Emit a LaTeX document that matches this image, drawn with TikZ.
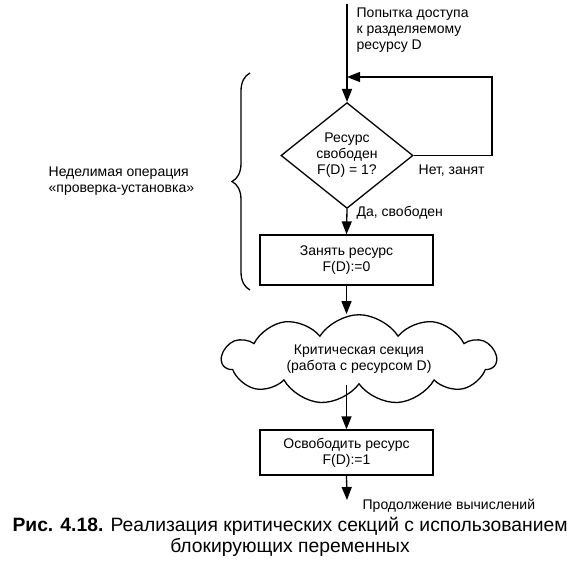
\documentclass[tikz,border=0pt]{standalone}
\usepackage{fontspec}
\setmainfont{Liberation Sans}
\usetikzlibrary{arrows.meta,shapes.geometric,shapes.symbols,decorations.pathreplacing}
\begin{document}
\begin{tikzpicture}[x=1pt,y=-1pt,
  line width=1.3pt,
  txt/.style={font=\fontsize{14}{16}\selectfont, inner sep=0pt},
  arr/.style={-{Triangle[length=13pt,width=10pt]}},
  box/.style={draw, rectangle, minimum width=173pt, inner sep=0pt, align=center, txt},
  dec/.style={draw, diamond, minimum width=132pt, minimum height=97pt, inner sep=0pt, align=center, txt},
  cl/.style={draw, cloud, cloud puffs=11, cloud puff arc=115, aspect=3.4, minimum width=274pt, minimum height=84pt, inner sep=0pt, align=center, txt}
]
\useasboundingbox (0,0) rectangle (579,568);
\coordinate (top) at (347,4);
\coordinate (merge) at (347,77);
\node[txt, anchor=north west, align=left] (lbl) at (356,7) {Попытка доступа\\к разделяемому\\ресурсу D};
\node[dec] (d) at (347,155.5) {Ресурс\\свободен\\F(D) = 1?};
\coordinate (rt) at (492,155.5);
\node[txt, anchor=west] (no) at (418,171) {Нет, занят};
\node[txt, anchor=west] (yes) at (356,213) {Да, свободен};
\node[box, minimum height=50pt] (b1) at (346.5,260) {Занять ресурс\\F(D):=0};
\node[cl] (c) at (359,359.5) {Критическая секция\\(работа с ресурсом D)};
\node[box, minimum height=45pt] (b2) at (346.5,452.5) {Освободить ресурс\\F(D):=1};
\coordinate (end) at (347,500);
\node[txt, anchor=west] (cont) at (362,506) {Продолжение вычислений};
\node[font=\fontsize{19.3}{21}\selectfont, align=center, inner sep=0pt] (cap) at (290,536.5) {\textbf{Рис. 4.18.} Реализация критических секций с использованием\\блокирующих переменных};
\node[txt, align=left, anchor=west] (op) at (48,181) {Неделимая операция\\«проверка-установка»};
\coordinate (bt) at (250,73);
\coordinate (bb) at (250,290);
\draw[decorate, decoration={brace, amplitude=18pt, mirror}] (bt) -- (bb);
\draw[arr] (top) -- (d.north);
\draw[arr] (d.east) -- (rt) |- (merge);
\draw[arr] (d.south) -- (b1.north);
\draw[arr] (b1.south) -- (b1.south |- c.north);
\draw[arr] (b2.north |- c.south) -- (b2.north);
\draw[arr] (b2.south) -- (end);
\end{tikzpicture}
\end{document}
